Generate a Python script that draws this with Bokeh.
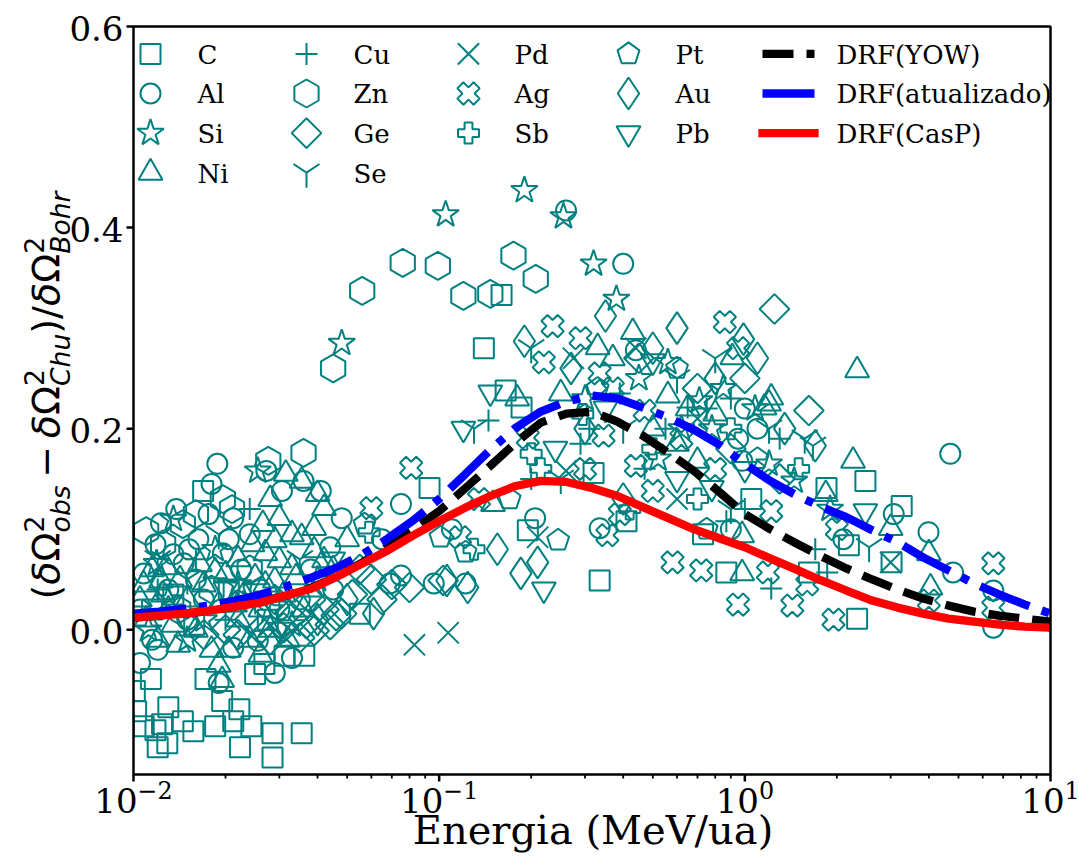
import math
from bokeh.plotting import figure
from bokeh.models import Range1d, LinearScale, Label
from bokeh.embed import file_html
from bokeh.resources import INLINE

# ---------------- data (x in MeV/ua, y = relative straggling) ----------------
C = [(0.0114,-0.049),(0.0101,-0.061),(0.0102,-0.081),(0.0130,-0.077),(0.0118,-0.100),(0.0120,-0.117),
     (0.0129,-0.113),(0.0145,-0.091),(0.0157,-0.101),(0.0185,-0.096),(0.0195,-0.071),(0.0212,-0.091),
     (0.0222,-0.079),(0.0243,-0.096),(0.0223,-0.117),(0.0285,-0.103),(0.0285,-0.127),(0.0355,-0.103),
     (0.0172,-0.049),(0.0250,-0.044),(0.0268,-0.034),(0.0312,-0.026),(0.0362,-0.026),(0.0108,-0.096),
     (0.0124,-0.094),(0.0550,0.016),(0.0169,0.138),(0.093,0.141),(0.140,0.280),(0.160,0.333),
     (0.165,0.238),(0.186,0.221),(0.195,0.099),(0.320,0.156),(0.410,0.108),(0.335,0.049),(0.870,0.057),
     (1.85,0.141),(2.48,0.148),(3.26,0.123),(2.19,0.084),(2.33,0.011),(3.02,0.067),(1.62,0.057),
     (0.0115,0.020),(0.0135,0.035),(0.0158,0.005),(0.0205,0.040),(0.0275,0.010),(1.05,0.130),(0.73,0.095)]
AL = [(0.26,0.417),(0.40,0.364),(4.7,0.175),(3.07,0.115),(3.99,0.097),(4.8,0.057),(6.5,0.039),(6.5,0.002),
      (0.98,0.168),(0.206,0.111),(0.335,0.101),(0.122,0.046),(0.44,0.278),(1.0,0.22),(0.95,0.19),(1.1,0.20),
      (0.90,0.10),(2.1,0.09),(0.0188,0.165),(0.0123,0.106),(0.0163,0.090),(0.0176,0.115),(0.0212,0.111),
      (0.0272,0.158),(0.0306,0.138),(0.036,0.148),(0.041,0.138),(0.048,0.111),(0.044,0.082),(0.024,0.095),
      (0.0146,0.066),(0.0196,0.076),(0.0108,0.056),(0.075,0.125),(0.075,0.054),(0.069,0.046),(0.096,0.046),
      (0.0105,-0.033),(0.019,-0.053),(0.029,-0.043),(0.033,-0.028),(0.0212,-0.018),(0.0255,-0.011),
      (0.0105,0.020),(0.0115,-0.010),(0.013,0.040),(0.015,0.010),(0.017,0.030),(0.0135,0.075),(0.0225,0.060),
      (0.026,0.040),(0.030,0.020),(0.035,0.030),(0.016,0.050),(0.012,-0.020),(0.038,0.060),(0.045,0.040),
      (0.11,0.100),(0.065,0.090),(0.0118,0.085),(0.0152,0.080),(0.0205,0.090),(0.0138,0.120),(0.018,0.145)]
SI = [(0.105,0.413),(0.19,0.437),(0.255,0.411),(0.32,0.364),(0.38,0.329),(0.048,0.285),(0.56,0.266),
      (0.71,0.228),(1.2,0.165),(1.45,0.148),(0.0255,0.158),(0.0119,0.066),(0.62,0.20),(0.85,0.24),(0.45,0.25),
      (0.30,0.23),(1.9,0.12),(0.013,0.030),(0.017,0.010),(0.022,0.045),(0.028,0.020),(0.015,-0.010),
      (0.040,0.050),(1.08,0.22),(0.78,0.20),(0.52,0.17),(0.0112,0.0),(0.033,0.005),(0.0185,0.080),
      (0.0135,0.110)]
NI = [(0.030,0.111),(0.0355,0.148),(0.040,0.135),(0.042,0.121),(0.039,0.101),(0.0355,0.092),(0.033,0.095),
      (0.029,0.089),(0.027,0.076),(0.030,0.069),(0.033,0.062),(0.039,0.079),(0.042,0.069),(0.034,0.052),
      (0.029,0.049),(0.025,0.052),(0.0123,0.049),(0.0105,0.030),(0.011,0.010),(0.012,-0.010),(0.0125,0.035),
      (0.013,0.020),(0.014,-0.015),(0.015,0.030),(0.016,0.0),(0.017,0.045),(0.018,-0.020),(0.019,0.025),
      (0.020,0.055),(0.019,-0.035),(0.0195,-0.050),(0.022,0.010),(0.023,0.035),(0.024,-0.010),(0.026,0.020),
      (0.028,0.0),(0.031,0.035),(0.036,0.020),(0.045,0.060),(0.050,0.090),(0.038,0.040),(0.0115,0.060),
      (0.0135,0.005),(0.0205,-0.020),(0.0215,0.025),(0.0108,0.045),(0.0128,0.062),(0.0142,0.050),
      (0.0165,0.065),(0.0185,0.058),(0.022,0.070),(0.0245,0.085),(0.0265,0.105),(0.028,0.130),(0.0315,0.155),
      (0.026,-0.025),(0.032,-0.010),(0.027,0.045),
      (0.25,0.235),(0.33,0.281),(0.43,0.296),(0.56,0.233),
      (0.60,0.185),(0.91,0.271),(1.16,0.221),(1.22,0.231),(2.33,0.258),(2.26,0.168),(0.70,0.168),(0.15,0.125),
      (0.98,0.094),(0.98,0.056),(3.0,0.101),(4.0,0.076),(4.05,0.042),(1.84,0.135),(1.2,0.225),(0.80,0.215),
      (0.65,0.22),(0.37,0.27),(0.18,0.23),(0.50,0.20)]
CU = [(0.145,0.208),(0.29,0.185),(0.65,0.221),(0.31,0.20),(0.87,0.108),(0.39,0.235),(1.22,0.041),(1.86,0.057),
      (0.75,0.22),(0.90,0.23),(0.55,0.20),(1.3,0.19),(0.47,0.16),(0.20,0.15),(0.012,0.040),(0.020,0.010),
      (0.030,0.030),(1.7,0.08),(1.0,0.12),(0.016,0.070),(0.024,0.120)]
ZN = [(0.056,0.337),(0.076,0.365),(0.099,0.362),(0.12,0.332),(0.147,0.334),(0.175,0.372),(0.207,0.349),
      (0.045,0.26),(0.036,0.176),(0.0276,0.168),(0.0196,0.13),(0.016,0.115),(0.011,0.098),(0.0125,0.085),
      (0.024,0.06),(0.014,0.02),(0.018,0.04),(0.0145,0.105),(0.021,0.120)]
GE = [(0.031,0.002),(0.0368,0.006),(0.039,-0.001),(0.046,0.014),(0.048,0.016),(0.080,0.042),(0.103,0.049),
      (0.020,0.0),(0.022,-0.005),(0.024,0.010),(0.026,0.0),(0.028,-0.010),(0.033,0.012),(0.042,0.020),
      (0.035,-0.008),(0.060,0.050),(0.070,0.045),(0.055,0.060),(0.017,-0.005),(0.029,0.030),(0.038,0.030),
      (0.044,0.005),(0.052,0.035),(0.065,0.030),
      (1.25,0.319),(1.62,0.218),(1.0,0.25),(0.70,0.24),(0.45,0.27),(0.90,0.18),(1.3,0.15)]
SE = [(0.20,0.28),(1.57,0.19),(1.67,0.183),(2.55,0.082),(0.60,0.25),(0.80,0.27),(0.25,0.15),(0.40,0.20),
      (0.015,0.05),(0.025,0.03),(0.035,0.07),(0.90,0.12),(1.2,0.20),(0.13,0.20),(0.012,0.070),(0.019,0.095)]
PD = [(0.083,-0.015),(0.107,-0.003),(0.21,0.092),(0.26,0.158),(3.0,0.067),(0.275,0.27),(0.44,0.28),
      (0.70,0.21),(0.60,0.13)]
AG = [(0.235,0.302),(0.29,0.29),(0.22,0.266),(0.335,0.255),(0.86,0.306),(0.195,0.191),(0.47,0.218),
      (0.345,0.193),(0.44,0.163),(0.50,0.138),(0.355,0.094),(0.58,0.067),(0.72,0.059),(0.95,0.025),
      (0.117,0.092),(0.39,0.115),(1.43,0.024),(1.95,0.010),(6.5,0.066),(6.5,0.022),(1.6,0.045),(4.0,0.029),
      (1.22,0.118),(1.19,0.057),(0.081,0.161),(0.060,0.121),(0.37,0.24),(0.95,0.28),(0.80,0.16),(0.62,0.19),
      (0.30,0.16),(0.135,0.13),(2.0,0.10)]
SB = [(0.20,0.175),(0.215,0.16),(0.295,0.214),(0.059,0.097),(0.13,0.08),(0.50,0.18),(0.42,0.12),(0.90,0.20),
      (1.5,0.16),(0.70,0.13)]
PT = [(0.245,0.089),(0.122,0.077),(0.101,0.092),(0.057,0.105),(0.17,0.13),(0.60,0.26),(0.33,0.24),(1.1,0.17),
      (0.75,0.10)]
AU = [(0.155,0.080),(0.185,0.056),(0.21,0.067),(0.124,0.042),(0.061,0.016),(0.106,0.049),(0.35,0.312),
      (0.19,0.287),(0.99,0.289),(1.1,0.27),(1.7,0.183),(0.27,0.26),(0.50,0.28),(0.80,0.25),(0.60,0.30),
      (0.40,0.13),(0.30,0.20),(1.35,0.20),(0.050,0.030),(0.040,0.010)]
PB = [(0.147,0.236),(0.24,0.18),(0.78,0.141),(0.50,0.267),(2.48,0.118),(0.12,0.20),(0.35,0.22),(0.22,0.04),
      (0.60,0.15),(1.0,0.16),(0.045,0.07),(0.030,0.0),(0.020,0.04)]

ELEMENTS = ["C", "Al", "Si", "Ni", "Cu", "Zn", "Ge", "Se", "Pd", "Ag", "Sb", "Pt", "Au", "Pb"]
SERIES = {"C": C, "Al": AL, "Si": SI, "Ni": NI, "Cu": CU, "Zn": ZN, "Ge": GE, "Se": SE,
          "Pd": PD, "Ag": AG, "Sb": SB, "Pt": PT, "Au": AU, "Pb": PB}

CURVE_X = [0.01, 0.0121, 0.0147, 0.0178, 0.0215, 0.0261, 0.0316, 0.0383, 0.0464, 0.0562, 0.0681, 0.0825,
           0.1, 0.121, 0.147, 0.178, 0.215, 0.261, 0.316, 0.383, 0.464, 0.562, 0.681, 0.825, 1.0, 1.21,
           1.47, 1.78, 2.15, 2.61, 3.16, 3.83, 4.64, 5.62, 6.81, 8.25, 10.0]
DRF_YOW = [0.012, 0.014, 0.016, 0.019, 0.023, 0.028, 0.034, 0.042, 0.053, 0.067, 0.083, 0.100, 0.118, 0.140,
           0.163, 0.186, 0.206, 0.215, 0.217, 0.207, 0.193, 0.176, 0.158, 0.137, 0.115, 0.100, 0.086, 0.073,
           0.061, 0.050, 0.040, 0.031, 0.024, 0.018, 0.014, 0.011, 0.008]
DRF_ATU = [0.016, 0.018, 0.021, 0.024, 0.029, 0.035, 0.043, 0.052, 0.062, 0.075, 0.091, 0.109, 0.130, 0.154,
           0.179, 0.201, 0.217, 0.227, 0.233, 0.230, 0.221, 0.211, 0.199, 0.184, 0.165, 0.148, 0.134, 0.122,
           0.112, 0.099, 0.087, 0.072, 0.059, 0.046, 0.035, 0.025, 0.016]
DRF_CASP = [0.012, 0.014, 0.016, 0.019, 0.023, 0.027, 0.034, 0.041, 0.053, 0.066, 0.079, 0.094, 0.108, 0.121,
            0.133, 0.143, 0.148, 0.147, 0.141, 0.133, 0.122, 0.111, 0.100, 0.091, 0.082, 0.071, 0.060, 0.049,
            0.039, 0.029, 0.022, 0.016, 0.011, 0.008, 0.005, 0.003, 0.002]
LINE_LABELS = ["DRF(YOW)", "DRF(atualizado)", "DRF(CasP)"]

X_TICKS = [0.01, 0.1, 1.0, 10.0]
X_TICK_EXP = ["−2", "−1", "0", "1"]
X_MINOR = [0.02, 0.03, 0.04, 0.05, 0.06, 0.07, 0.08, 0.09, 0.2, 0.3, 0.4, 0.5, 0.6, 0.7, 0.8, 0.9,
           2, 3, 4, 5, 6, 7, 8, 9]
Y_TICKS = [0.0, 0.2, 0.4, 0.6]
X_TITLE = "Energia (MeV/ua)"

# ---------------- layout ----------------
TEAL = "#008080"
W, H = 1079, 856
BOX_L, BOX_R, BOX_T, BOX_B = 133, 1050, 26, 774
X_MIN, X_MAX = 0.01, 10.0
Y_MIN, Y_MAX = -0.144, 0.6
DEC = (BOX_R - BOX_L) / (math.log10(X_MAX) - math.log10(X_MIN))   # px per decade
PXY = (BOX_B - BOX_T) / (Y_MAX - Y_MIN)                               # px per unit y
SERIF = "DejaVu Serif"
SANS = "DejaVu Sans"
K_BASE = 0.385   # em offset between requested alphabetic anchor and drawn baseline

x_lo = 10 ** (math.log10(X_MIN) - BOX_L / DEC)
x_hi = 10 ** (math.log10(X_MAX) + (W - BOX_R) / DEC)
y_lo = Y_MIN - (H - BOX_B) / PXY
y_hi = Y_MAX + BOX_T / PXY

p = figure(width=W, height=H, x_axis_type="log",
           x_range=Range1d(x_lo, x_hi), y_range=Range1d(y_lo, y_hi),
           x_axis_location=None, y_axis_location=None,
           output_backend="svg", toolbar_location=None, min_border=0)
p.min_border_left = p.min_border_right = p.min_border_top = p.min_border_bottom = 0
p.xgrid.visible = False
p.ygrid.visible = False
p.outline_line_color = None
p.background_fill_color = "white"
p.border_fill_color = "white"

# canvas-pixel coordinate system (x right, y up from canvas bottom)
p.extra_x_ranges = {"px": Range1d(0, W)}
p.extra_y_ranges = {"py": Range1d(0, H)}
p.extra_x_scales = {"px": LinearScale()}
p.extra_y_scales = {"py": LinearScale()}
PX = dict(x_range_name="px", y_range_name="py")


def cx_of(x):
    return BOX_L + DEC * (math.log10(x) - math.log10(X_MIN))


def cy_of(y):
    return BOX_B - PXY * (y - Y_MIN)


def fy(cy):            # canvas-from-top -> px range
    return H - cy


STYLE = {
    "C":  dict(marker="square", size=20),
    "Al": dict(marker="circle", size=20),
    "Si": dict(marker="star", size=28),
    "Ni": dict(marker="triangle", size=24),
    "Cu": dict(marker="cross", size=22),
    "Zn": dict(marker="hex", size=28, angle=math.pi / 6),
    "Ge": dict(marker="square", size=21, angle=math.pi / 4),
    "Se": dict(marker="y", size=30),
    "Pd": dict(marker="x", size=30),
    "Ag": dict(marker="plus", size=23, angle=math.pi / 4),
    "Sb": dict(marker="plus", size=21),
    "Pt": dict(marker="pentagon", r=11.5),
    "Au": dict(marker="diamond", size=32),
    "Pb": dict(marker="inverted_triangle", size=24),
}


def pentagon_paths(centers, r):
    xs, ys = [], []
    for cx, cyu in centers:
        xs.append([cx + r * math.sin(2 * math.pi * k / 5) for k in range(5)])
        ys.append([cyu + r * math.cos(2 * math.pi * k / 5) for k in range(5)])
    return xs, ys


def draw_marker(name, xs, ys, in_px=False):
    st = STYLE[name]
    if st["marker"] == "pentagon":
        if in_px:
            centers = list(zip(xs, ys))
        else:
            centers = [(cx_of(a), fy(cy_of(b))) for a, b in zip(xs, ys)]
        pxs, pys = pentagon_paths(centers, st["r"])
        p.patches(pxs, pys, fill_color=None, line_color=TEAL, line_width=2, **PX)
        return
    kw = dict(marker=st["marker"], size=st["size"], angle=st.get("angle", 0.0),
              fill_color=None, line_color=TEAL, line_width=2)
    if in_px:
        kw.update(PX)
    p.scatter(xs, ys, **kw)


def text(cx, cy_base, s, size, font=SERIF, style="normal", align="left", angle=0.0):
    """Place text so that its alphabetic baseline starts at canvas (cx, cy_base)."""
    if angle == 0.0:
        ax, ay = cx, cy_base - K_BASE * size
    else:  # rotated 90 deg CCW: text 'up' is canvas -x
        ax, ay = cx - K_BASE * size, cy_base
    p.add_layout(Label(x=ax, y=fy(ay), text=s, angle=angle, text_font=font, text_font_style=style,
                       text_font_size=f"{size:.1f}px", text_color="black", text_align=align,
                       text_baseline="alphabetic", **PX))


# ---------------- data marks ----------------
for name in ELEMENTS:
    pts = SERIES[name]
    draw_marker(name, [a for a, b in pts], [b for a, b in pts])

LW = 8.3
p.line(CURVE_X, DRF_YOW, line_color="black", line_width=LW, line_dash="31 13")
p.line(CURVE_X, DRF_ATU, line_color="blue", line_width=LW, line_dash="53 13 8 13")
p.line(CURVE_X, DRF_CASP, line_color="red", line_width=LW, line_cap="square")

# mask everything outside the axes box (acts as clipping)
p.quad(left=[0, BOX_R, 0, 0], right=[BOX_L, W, W, W],
       bottom=[0, 0, fy(BOX_T), 0], top=[H, H, H, fy(BOX_B)],
       fill_color="white", line_color=None, **PX)

# axes box
p.quad(left=[BOX_L], right=[BOX_R], bottom=[fy(BOX_B)], top=[fy(BOX_T)],
       fill_color=None, line_color="black", line_width=2.5, **PX)

# ticks
mx = [cx_of(v) for v in X_TICKS]
p.segment(x0=mx, y0=[fy(BOX_B)] * len(mx), x1=mx, y1=[fy(BOX_B + 7)] * len(mx),
          line_color="black", line_width=2.5, **PX)
nx = [cx_of(v) for v in X_MINOR]
p.segment(x0=nx, y0=[fy(BOX_B)] * len(nx), x1=nx, y1=[fy(BOX_B + 4)] * len(nx),
          line_color="black", line_width=1.8, **PX)
yy = [fy(cy_of(v)) for v in Y_TICKS]
p.segment(x0=[BOX_L] * len(yy), y0=yy, x1=[BOX_L - 7] * len(yy), y1=yy,
          line_color="black", line_width=2.5, **PX)

# tick labels
TICK_SIZE = 34.0
for v in Y_TICKS:
    text(123, cy_of(v) + 15, f"{v:.1f}", TICK_SIZE, align="right")

EM_SERIF = {"1": 0.636, "0": 0.636, "2": 0.636, "−": 0.838}
for v, ex in zip(X_TICKS, X_TICK_EXP):
    w10 = 2 * 0.636 * TICK_SIZE
    wex = sum(EM_SERIF[c] for c in ex) * 0.7 * TICK_SIZE
    x0 = cx_of(v) - (w10 + wex) / 2
    text(x0, 813, "10", TICK_SIZE)
    text(x0 + w10, 813 - 0.42 * TICK_SIZE, ex, 0.7 * TICK_SIZE)

# ---------------- legend ----------------
ROWS = [53.4, 93.0, 132.6, 172.2]
COLS = [(150, 197, ["C", "Al", "Si", "Ni"]),
        (306, 353, ["Cu", "Zn", "Ge", "Se"]),
        (468, 514, ["Pd", "Ag", "Sb"]),
        (628, 675, ["Pt", "Au", "Pb"])]
LEG_SIZE = 26.0
for mxc, lx, names in COLS:
    for i, name in enumerate(names):
        draw_marker(name, [mxc], [fy(ROWS[i])], in_px=True)
        text(lx, ROWS[i] + 11, name, LEG_SIZE)

LINE_STYLES = [dict(line_color="black", line_dash="31 13"),
               dict(line_color="blue", line_dash="53 13 8 13"),
               dict(line_color="red", line_cap="square")]
for i, (lab, st) in enumerate(zip(LINE_LABELS, LINE_STYLES)):
    p.line([762, 814], [fy(ROWS[i]), fy(ROWS[i])], line_width=LW, **PX, **st)
    text(836, ROWS[i] + 11, lab, LEG_SIZE)

# ---------------- axis titles ----------------
text((BOX_L + BOX_R) / 2 + 1, 845, X_TITLE, 40.0, align="center")

EM = {"(": 0.390, ")": 0.390, "/": 0.337, "δ": 0.612, "Ω": 0.764, "2": 0.636, "o": 0.612, "b": 0.635,
      "s": 0.521, "C": 0.698, "h": 0.634, "u": 0.634, "B": 0.686, "r": 0.411, "−": 0.838}
F = 38.0
SS = 0.7
YL_PARTS = [("run", "(", "normal"), ("run", "δ", "italic"), ("run", "Ω", "normal"), ("script", "2", "obs"),
            ("op", "−", "normal"),
            ("run", "δ", "italic"), ("run", "Ω", "normal"), ("script", "2", "Chu"),
            ("run", ")/", "normal"),
            ("run", "δ", "italic"), ("run", "Ω", "normal"), ("script", "2", "Bohr")]


def em(s):
    return sum(EM[c] for c in s)


def advance(part):
    kind, a, b = part
    if kind == "run":
        return em(a) * F
    if kind == "op":
        return (em(a) + 0.4) * F
    return max(em(a), em(b)) * SS * F


total = sum(advance(pp) for pp in YL_PARTS)
BASE_CX = 60.0
START_CY = 395.0 + total / 2.0
pos = 0.0
for part in YL_PARTS:
    kind, a, b = part
    if kind == "run":
        text(BASE_CX, START_CY - pos, a, F, font=SANS, style=b, angle=math.pi / 2)
    elif kind == "op":
        text(BASE_CX, START_CY - pos - 0.2 * F, a, F, font=SANS, style=b, angle=math.pi / 2)
    else:
        text(BASE_CX - 0.42 * F, START_CY - pos, a, F * SS, font=SANS, style="normal", angle=math.pi / 2)
        text(BASE_CX + 0.27 * F, START_CY - pos, b, F * SS, font=SANS, style="italic", angle=math.pi / 2)
    pos += advance(part)

open("out.html", "w").write(file_html(p, INLINE))
